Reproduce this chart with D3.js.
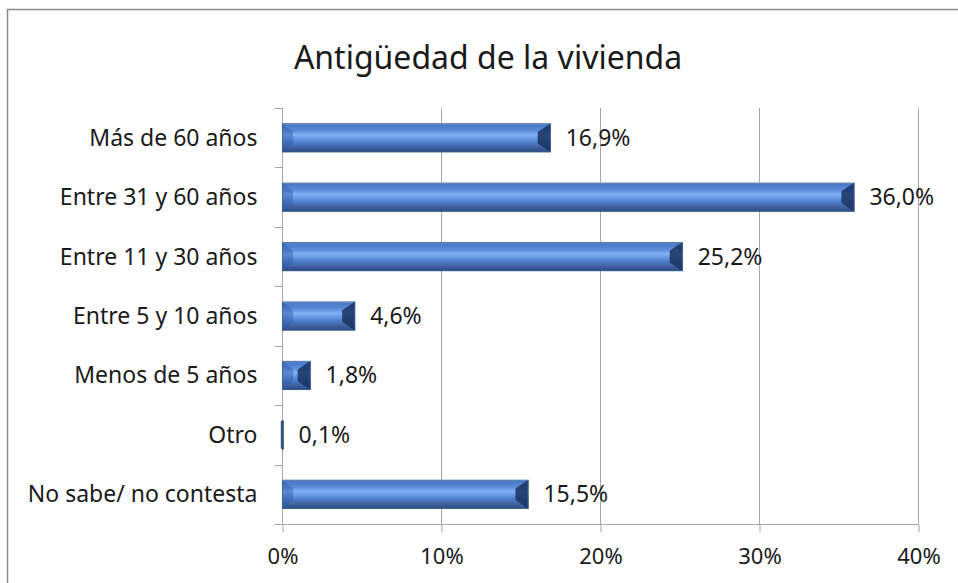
<!DOCTYPE html>
<html>
<head>
<meta charset="utf-8">
<script src="https://cdn.jsdelivr.net/npm/d3@7"></script>
<style>
  body { margin: 0; background: #fff; }
  svg { display: block; }
  text { font-family: "Noto Sans", "Open Sans", sans-serif; fill: #1a1a1a; }
</style>
</head>
<body>
<svg id="chart" width="958" height="583"></svg>
<script>
// data
const categories = ["Más de 60 años", "Entre 31 y 60 años", "Entre 11 y 30 años",
                    "Entre 5 y 10 años", "Menos de 5 años", "Otro", "No sabe/ no contesta"];
const values = [16.9, 36.0, 25.2, 4.6, 1.8, 0.1, 15.5];
const xTicks = [0, 10, 20, 30, 40];
const title = "Antigüedad de la vivienda";

const svg = d3.select("#chart");
const margin = {left: 282, right: 40, top: 108, bottom: 59};
const W = 958, H = 583;

const x = d3.scaleLinear().domain([0, 40]).range([margin.left, W - margin.right]);
const y = d3.scaleBand().domain(categories).range([margin.top, H - margin.bottom]).paddingInner(0.51).paddingOuter(0.255);

const fmt = v => d3.format(".1f")(v).replace(".", ",") + "%";

// outer frame
svg.append("rect")
    .attr("x", 7.5).attr("y", 9.5)
    .attr("width", W).attr("height", H)
    .attr("fill", "none").attr("stroke", "#8c8c8c").attr("stroke-width", 1.5);

svg.append("text")
    .attr("x", 488).attr("y", 69)
    .attr("text-anchor", "middle")
    .style("font-size", "32px")
    .text(title);

// gradient for bars
const defs = svg.append("defs");
const grad = defs.append("linearGradient").attr("id", "barGrad")
    .attr("x1", 0).attr("y1", 0).attr("x2", 0).attr("y2", 1);
[[0, "#b9cbe6"], [0.06, "#4a78c8"], [0.25, "#5a8ad8"], [0.4, "#80b0f4"], [0.5, "#6e9ee8"],
 [0.65, "#5080ce"], [0.85, "#3e5f9c"], [1, "#2c4a80"]].forEach(([o, c]) =>
    grad.append("stop").attr("offset", o).attr("stop-color", c));

// gridlines
svg.append("g")
    .selectAll("line")
    .data(xTicks.slice(1))
    .join("line")
    .attr("x1", d => x(d) + 0.5).attr("x2", d => x(d) + 0.5)
    .attr("y1", margin.top).attr("y2", H - margin.bottom)
    .attr("stroke", "#a6a6a6").attr("stroke-width", 1);

// x axis
const xAxis = svg.append("g")
    .attr("transform", `translate(0.5,${H - margin.bottom + 0.5})`)
    .call(d3.axisBottom(x).tickValues(xTicks).tickFormat(d => d + "%").tickSizeOuter(0).tickSize(8).tickPadding(16));
xAxis.select(".domain").attr("stroke", "#a6a6a6").attr("d", `M${x(0)},0H${x(40)}`);
xAxis.selectAll(".tick line").attr("stroke", "#a6a6a6");
xAxis.selectAll(".tick text").style("font-size", "22px").attr("fill", "#1a1a1a");

// y axis (category ticks sit on band boundaries)
const step = y.step();
const yAxisG = svg.append("g").attr("transform", `translate(${x(0) + 0.5},0)`);
yAxisG.append("line")
    .attr("y1", margin.top).attr("y2", H - margin.bottom)
    .attr("stroke", "#a6a6a6");
yAxisG.selectAll(".tk")
    .data(d3.range(categories.length + 1))
    .join("line")
    .attr("x1", -8).attr("x2", 0)
    .attr("y1", i => Math.round(margin.top + i * step) + 0.5)
    .attr("y2", i => Math.round(margin.top + i * step) + 0.5)
    .attr("stroke", "#a6a6a6");
yAxisG.selectAll("text")
    .data(categories)
    .join("text")
    .attr("x", -25)
    .attr("y", d => y(d) + y.bandwidth() / 2)
    .attr("dy", "0.35em")
    .attr("text-anchor", "end")
    .style("font-size", "23px")
    .text(d => d);

// bars
const bars = svg.append("g")
    .selectAll("g")
    .data(categories.map((c, i) => ({cat: c, v: values[i]})))
    .join("g")
    .attr("transform", d => `translate(${x(0)},${y(d.cat)})`);

const h = y.bandwidth();
bars.append("rect")
    .attr("width", d => x(d.v) - x(0))
    .attr("height", h)
    .attr("fill", "url(#barGrad)");

// bevel caps
bars.each(function(d) {
    const w = x(d.v) - x(0);
    const b = Math.min(11, w / 2);
    const t = Math.min(h * 0.3, b);
    const g = d3.select(this);
    g.append("polygon")
        .attr("points", [[0, 0], [b, t], [b, h - t], [0, h]].join(" "))
        .attr("fill", "#2f5aa8").attr("opacity", 0.45);
    g.append("polygon")
        .attr("points", [[w, 0], [w - b - 2, t], [w - b - 2, h - t], [w, h]].join(" "))
        .attr("fill", "#1a3160").attr("opacity", 0.85);
    g.append("rect")
        .attr("x", 0.5).attr("y", 0.5)
        .attr("width", Math.max(w - 1, 0.5)).attr("height", h - 1)
        .attr("fill", "none").attr("stroke", "#3b5f99").attr("stroke-width", 1).attr("opacity", 0.7);
});

bars.append("text")
    .attr("x", d => x(d.v) - x(0) + 15)
    .attr("y", h / 2)
    .attr("dy", "0.35em")
    .style("font-size", "23px")
    .text(d => fmt(d.v));
</script>
</body>
</html>
